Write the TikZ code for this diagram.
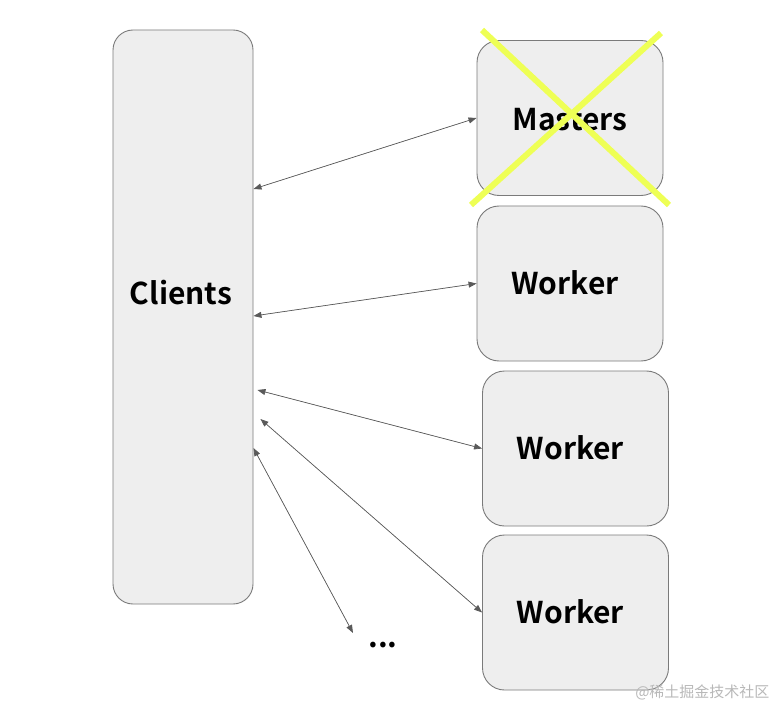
\documentclass[tikz,border=0pt]{standalone}
\usepackage{fontspec}
\usepackage{xcolor}
\setmainfont{Noto Sans CJK SC}[BoldFont={Noto Sans CJK SC Bold}]
\usetikzlibrary{arrows.meta,positioning}

\definecolor{boxfill}{HTML}{EEEEEE}
\definecolor{boxline}{HTML}{7A7A7A}
\definecolor{linkgray}{HTML}{5A5A5A}
\definecolor{crossyellow}{HTML}{EEFF55}

\begin{document}
\begin{tikzpicture}[
  x=1pt,y=-1pt,
  box/.style={
    draw=boxline,
    line width=0.9pt,
    rounded corners=22pt,
    fill=boxfill,
    minimum width=186pt,
    minimum height=155pt
  },
  boxtext/.style={font=\fontsize{30}{34}\selectfont\bfseries},
  arrow/.style={{Triangle[length=8pt,width=6pt]}-{Triangle[length=8pt,width=6pt]},draw=linkgray,fill=linkgray,line width=0.7pt},
  cross/.style={draw=crossyellow,line width=6pt}
]
  \useasboundingbox (0,0) rectangle (778,708);

  \node[box,minimum width=140pt,minimum height=574pt,rounded corners=20pt,
    label={[boxtext,yshift=24pt,xshift=-2pt]center:Clients}] (clients) at (183,317) {};
  \node[box,label={[boxtext,yshift=-2pt]center:Masters}] (masters) at (570,118) {};
  \node[box,label={[boxtext,xshift=-5pt,yshift=1pt]center:Worker}] (worker1) at (570,283.5) {};
  \node[box,label={[boxtext,xshift=-5pt,yshift=1pt]center:Worker}] (worker2) at (575.5,448.5) {};
  \node[box,label={[boxtext,xshift=-5pt,yshift=1pt]center:Worker}] (worker3) at (575.5,612.5) {};
  \node[boxtext] (dots) at (383,645) {...};
  \coordinate (more) at (353,633);

  % masters are down
  \draw[cross] (482,30) -- (669,205);
  \draw[cross] (661,33) -- (471,205);

  \draw[arrow] ([yshift=128pt]clients.east) -- (masters.west);
  \draw[arrow] ([yshift=1pt]clients.east) -- (worker1.west);
  \draw[arrow] ([xshift=4pt,yshift=-73pt]clients.east) -- (worker2.west);
  \draw[arrow] ([xshift=7pt,yshift=-102pt]clients.east) -- (worker3.west);
  \draw[arrow] ([yshift=-131pt]clients.east) -- (more);

  \node[text=black!28,font=\fontsize{15}{17}\selectfont,anchor=east] (mark) at (773,692) {@稀土掘金技术社区};
\end{tikzpicture}
\end{document}
